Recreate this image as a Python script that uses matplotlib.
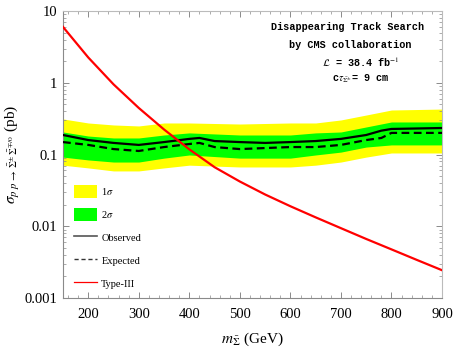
import matplotlib
matplotlib.use("Agg")
import matplotlib.pyplot as plt
from matplotlib.patches import Patch
from matplotlib.lines import Line2D
from matplotlib.ticker import LogLocator, MultipleLocator, NullFormatter

# ---- data ----
mass_band = [150, 200, 250, 300, 350, 400, 500, 600, 650, 700, 750, 800, 900]
yellow_hi = [0.313, 0.275, 0.258, 0.250, 0.275, 0.275, 0.266, 0.275, 0.275, 0.303, 0.355, 0.417, 0.430]
yellow_lo = [0.071, 0.065, 0.059, 0.059, 0.065, 0.071, 0.067, 0.067, 0.071, 0.0785, 0.092, 0.105, 0.105]
green_hi = [0.206, 0.181, 0.170, 0.170, 0.187, 0.200, 0.187, 0.187, 0.200, 0.206, 0.242, 0.284, 0.284]
green_lo = [0.092, 0.084, 0.0785, 0.0785, 0.089, 0.0985, 0.089, 0.089, 0.0985, 0.108, 0.127, 0.136, 0.136]

mass_line = [150, 200, 250, 300, 350, 400, 420, 450, 500, 550, 600, 650, 700, 750, 780, 800, 900]
observed = [0.187, 0.159, 0.145, 0.136, 0.149, 0.165, 0.170, 0.154, 0.149, 0.145, 0.149, 0.154, 0.165, 0.187, 0.215, 0.227, 0.234]
expected = [0.149, 0.136, 0.119, 0.112, 0.127, 0.140, 0.145, 0.127, 0.119, 0.123, 0.127, 0.127, 0.136, 0.159, 0.170, 0.200, 0.200]

mass_theory = [150, 200, 250, 300, 350, 400, 450, 500, 550, 600, 650, 700, 750, 800, 850, 900]
type3 = [6.0, 2.25, 0.95, 0.445, 0.223, 0.118, 0.0665, 0.042, 0.0277, 0.019, 0.0133, 0.0094, 0.00665, 0.00476, 0.0034, 0.00244]

xticks = [200, 300, 400, 500, 600, 700, 800, 900]
yticks = [0.001, 0.01, 0.1, 1, 10]
ytick_labels = ["0.001", "0.01", "0.1", "1", "10"]

info_lines = ["Disappearing Track Search", "by CMS collaboration",
              r"$\mathcal{L}$ = 38.4 fb$^{-1}$", r"c$\tau_{\bar{\Sigma}^{\pm}}$= 9 cm"]
info_x = [0.752, 0.757, 0.787, 0.784]

plt.rcParams["mathtext.fontset"] = "stix"
serif = "Liberation Serif"

fig = plt.figure(figsize=(4.54, 3.54), dpi=100)
ax = fig.add_axes([63/454, 1-298/354, (442-63)/454, (298-11)/354])

ax.fill_between(mass_band, yellow_lo, yellow_hi, color="#FFFF00", lw=0, zorder=1)
ax.fill_between(mass_band, green_lo, green_hi, color="#00FF00", lw=0, zorder=2)
ax.plot(mass_line, observed, color="black", lw=1.6, zorder=3)
ax.plot(mass_line, expected, color="black", lw=1.6, ls=(0, (3.5, 2)), zorder=3)
ax.plot(mass_theory, type3, color="#FF0000", lw=1.6, zorder=4)

ax.set_yscale("log")
ax.set_xlim(150, 900)
ax.set_ylim(0.001, 10)
ax.set_xticks(xticks)
ax.set_xticklabels([str(t) for t in xticks], fontfamily=serif, fontsize=10.5)
ax.xaxis.set_minor_locator(MultipleLocator(20))
ax.set_yticks(yticks)
ax.set_yticklabels(ytick_labels, fontfamily=serif, fontsize=10.5)
ax.yaxis.set_minor_locator(LogLocator(base=10, subs=range(2, 10)))
ax.yaxis.set_minor_formatter(NullFormatter())

gray = "#8a8a8a"
for s in ax.spines.values():
    s.set_color(gray)
    s.set_linewidth(0.8)
ax.spines["top"].set_color("#bbbbbb")
ax.spines["right"].set_color("#bbbbbb")
ax.tick_params(which="both", direction="in", top=True, right=True, color=gray, labelcolor="black")
ax.tick_params(which="major", length=4, width=0.7)
ax.tick_params(which="minor", length=2, width=0.5)
ax.tick_params(axis="x", which="major", pad=7)
ax.tick_params(axis="y", which="major", pad=4)

ax.set_xlabel(r"$m_{\bar{\Sigma}}$ (GeV)", fontfamily=serif, fontsize=11, labelpad=7)
ax.set_ylabel(r"$\sigma_{p\;p\,\rightarrow\,\bar{\Sigma}^{\pm}\,\bar{\Sigma}^{\mp/0}}$ (pb)",
              fontfamily=serif, fontsize=11, labelpad=2)

for i, t in enumerate(info_lines):
    ax.text(info_x[i], 0.943 - i * 0.06, t, transform=ax.transAxes, ha="center", va="center",
            fontfamily="Liberation Mono", fontweight="bold", fontsize=7.3)

handles = [Patch(facecolor="#FFFF00", edgecolor="none"),
           Patch(facecolor="#00FF00", edgecolor="none"),
           Line2D([], [], color="#555555", lw=1.2),
           Line2D([], [], color="#333333", lw=1.0, ls=(0, (3, 2))),
           Line2D([], [], color="#FF0000", lw=0.9)]
labels = [r"1$\sigma$", r"2$\sigma$", "Observed", "Expected", "Type-III"]
leg = ax.legend(handles, labels, loc="lower left", bbox_to_anchor=(0.005, -0.005),
                frameon=False, prop={"family": serif, "size": 7.5},
                handlelength=2.2, handleheight=1.55, labelspacing=0.95, handletextpad=0.4)

fig.savefig("out.png", dpi=100)
